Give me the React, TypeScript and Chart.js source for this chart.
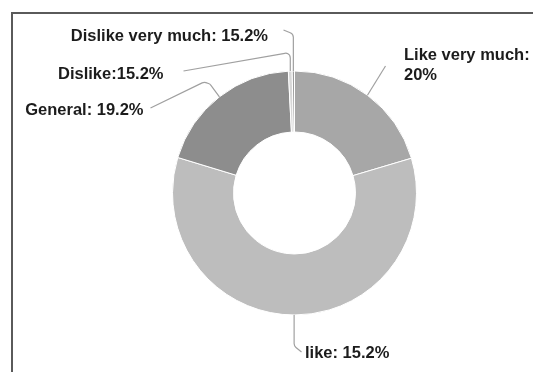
import React, { useEffect, useRef } from "react";
import { Chart, registerables } from "chart.js";

Chart.register(...registerables);

const categories = ["Like very much", "like", "General", "Dislike", "Dislike very much"];
const shares = [20.4, 59.3, 19.5, 0.5, 0.3];
const labelTexts = [
  ["Like very much:", "20%"],
  ["like: 15.2%"],
  ["General: 19.2%"],
  ["Dislike:15.2%"],
  ["Dislike very much: 15.2%"],
];
const sliceColors = ["#a7a7a7", "#bdbdbd", "#8d8d8d", "#d7d7d7", "#9b9b9b"];

type Pt = [number, number];
// Leader-line waypoints and text anchors, relative to the doughnut centre
const layout: { pts: (s: Pt) => Pt[]; text: Pt; align: CanvasTextAlign }[] = [
  { pts: (s) => [s, [91, -127]], text: [109.5, -137.5], align: "left" },
  { pts: (s) => [s, [s[0], 153], [7, 159]], text: [10.5, 160.5], align: "left" },
  { pts: (s) => [s, [-84.5, -109], [-90.5, -111], [-144, -85]], text: [-151, -82.5], align: "right" },
  { pts: (s) => [s, [s[0], -138], [-8, -140], [-111, -122]], text: [-131, -118.5], align: "right" },
  { pts: (s) => [s, [s[0], -159], [-11, -163]], text: [-26.5, -156.5], align: "right" },
];

const labelPlugin = {
  id: "leaderLabels",
  afterDatasetsDraw(chart: any) {
    const ctx: CanvasRenderingContext2D = chart.ctx;
    const meta = chart.getDatasetMeta(0);
    ctx.save();
    meta.data.forEach((arc: any, i: number) => {
      const p = arc.getProps(["x", "y", "startAngle", "endAngle", "outerRadius"], true);
      const cx = p.x, cy = p.y;
      const mid = (p.startAngle + p.endAngle) / 2;
      const s: Pt = [Math.cos(mid) * p.outerRadius, Math.sin(mid) * p.outerRadius];
      const L = layout[i];
      const pts = L.pts(s);
      ctx.beginPath();
      ctx.strokeStyle = "#a0a0a0";
      ctx.lineWidth = 1.2;
      ctx.moveTo(cx + pts[0][0], cy + pts[0][1]);
      for (let k = 1; k < pts.length; k++) {
        if (k < pts.length - 1) {
          ctx.arcTo(cx + pts[k][0], cy + pts[k][1], cx + pts[k + 1][0], cy + pts[k + 1][1], 5);
        } else {
          ctx.lineTo(cx + pts[k][0], cy + pts[k][1]);
        }
      }
      ctx.stroke();
      ctx.fillStyle = "#1c1c1c";
      ctx.font = "bold 16.5px 'Liberation Sans', Arial, sans-serif";
      ctx.textAlign = L.align;
      ctx.textBaseline = "middle";
      labelTexts[i].forEach((t, j) => {
        ctx.fillText(t, cx + L.text[0], cy + L.text[1] + j * 20);
      });
    });
    ctx.restore();
  },
};

export default function App() {
  const ref = useRef<HTMLCanvasElement | null>(null);
  useEffect(() => {
    if (!ref.current) return;
    const chart = new Chart(ref.current, {
      type: "doughnut",
      data: {
        labels: categories,
        datasets: [
          {
            data: shares,
            backgroundColor: sliceColors,
            borderColor: "#ffffff",
            borderWidth: 1,
          },
        ],
      },
      options: {
        animation: false,
        responsive: false,
        radius: 122,
        cutout: "50%",
        layout: { padding: { top: 71, bottom: 57, left: 172.5, right: 116.5 } },
        plugins: { legend: { display: false }, tooltip: { enabled: false } },
      } as any,
      plugins: [labelPlugin],
    });
    return () => chart.destroy();
  }, []);
  return (
    <div style={{ position: "fixed", left: 0, top: 0, width: 533, height: 372, overflow: "hidden", background: "#fff" }}>
      <div
        style={{
          position: "absolute",
          left: 11,
          top: 12,
          width: 560,
          height: 400,
          borderTop: "2px solid #5a5a5a",
          borderLeft: "2px solid #5a5a5a",
          boxSizing: "border-box",
        }}
      />
      <canvas ref={ref} width={533} height={372} style={{ position: "absolute", left: 0, top: 0 }} />
    </div>
  );
}
